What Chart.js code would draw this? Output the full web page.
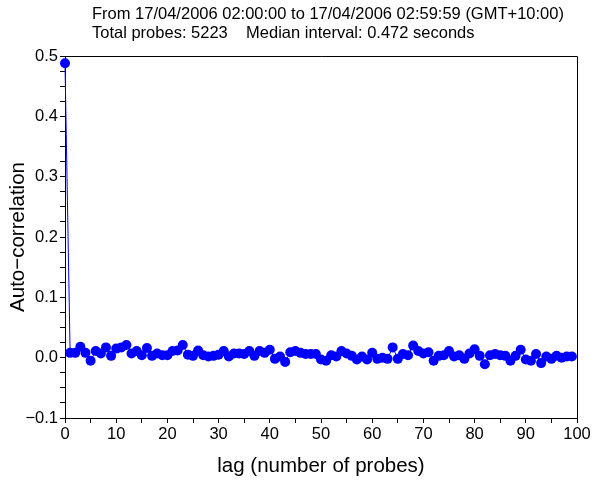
<!DOCTYPE html>
<html>
<head>
<meta charset="utf-8">
<script src="https://cdn.jsdelivr.net/npm/chart.js@4/dist/chart.umd.min.js"></script>
<style>
html,body{margin:0;padding:0;background:#fff;}
#wrap{position:relative;width:593px;height:481px;}
</style>
</head>
<body>
<div id="wrap"><canvas id="c" width="593" height="481"></canvas></div>
<script>
const titleLines = [
  "From 17/04/2006 02:00:00 to 17/04/2006 02:59:59 (GMT+10:00)",
  "Total probes: 5223    Median interval: 0.472 seconds"
];
const xTitle = "lag (number of probes)";
const yTitle = "Auto\u2212correlation";

const lags = [0,1,2,3,4,5,6,7,8,9,10,11,12,13,14,15,16,17,18,19,
  20,21,22,23,24,25,26,27,28,29,30,31,32,33,34,35,36,37,38,39,
  40,41,42,43,44,45,46,47,48,49,50,51,52,53,54,55,56,57,58,59,
  60,61,62,63,64,65,66,67,68,69,70,71,72,73,74,75,76,77,78,79,
  80,81,82,83,84,85,86,87,88,89,90,91,92,93,94,95,96,97,98,99];

const autoCorr = [0.488,0.008,0.008,0.018,0.008,-0.005,0.011,0.007,0.017,0.003,
  0.015,0.017,0.021,0.007,0.011,0.004,0.016,0.003,0.007,0.004,
  0.004,0.011,0.012,0.021,0.005,0.003,0.012,0.004,0.002,0.003,
  0.005,0.011,0.002,0.007,0.007,0.006,0.011,0.003,0.011,0.008,
  0.013,-0.002,0.002,-0.007,0.009,0.011,0.008,0.006,0.006,0.006,
  -0.003,-0.005,0.004,0.002,0.011,0.007,0.003,-0.003,0.002,-0.003,
  0.008,-0.002,0.000,-0.002,0.017,-0.002,0.006,0.004,0.020,0.011,
  0.007,0.009,-0.005,0.003,0.004,0.011,0.002,0.004,-0.002,0.007,
  0.014,0.003,-0.011,0.004,0.006,0.004,0.003,-0.005,0.003,0.013,
  -0.003,-0.005,0.006,-0.009,0.002,-0.002,0.003,0.000,0.002,0.002];

const xTickLabels = ["0","10","20","30","40","50","60","70","80","90","100"];
const yTickLabels = ["\u22120.1","0.0","0.1","0.2","0.3","0.4","0.5"];

const points = lags.map((l, i) => ({x: l, y: autoCorr[i]}));

const FONT = "'Liberation Sans', Arial, Helvetica, sans-serif";

const boxPlugin = {
  id: 'box',
  beforeDatasetsDraw(chart) {
    const {ctx, chartArea: a} = chart;
    ctx.save();
    ctx.strokeStyle = '#000';
    ctx.lineWidth = 1;
    ctx.beginPath();
    ctx.moveTo(a.left, a.top + 0.5);
    ctx.lineTo(a.right + 0.5, a.top + 0.5);
    ctx.lineTo(a.right + 0.5, a.bottom);
    ctx.stroke();
    ctx.restore();
  },
  afterDraw(chart) {
    const {ctx} = chart;
    ctx.save();
    ctx.fillStyle = '#000';
    ctx.font = "16.5px " + FONT;
    ctx.textAlign = 'left';
    ctx.textBaseline = 'middle';
    ctx.fillText(titleLines[0], 92, 14.5);
    ctx.fillText(titleLines[1], 92, 33);
    ctx.restore();
  }
};

new Chart(document.getElementById('c'), {
  type: 'line',
  data: {
    datasets: [{
      data: points,
      borderColor: '#0000ff',
      backgroundColor: '#0000ff',
      borderWidth: 1,
      pointRadius: 5,
      pointBorderWidth: 0,
      pointBackgroundColor: '#0000ff',
      tension: 0,
      clip: false
    }]
  },
  options: {
    responsive: false,
    animation: false,
    events: [],
    layout: {padding: {top: 56, right: 16, left: 0, bottom: 0}},
    plugins: {legend: {display: false}, tooltip: {enabled: false}, title: {display: false}},
    scales: {
      x: {
        type: 'linear',
        min: 0, max: 100,
        afterFit(s) { s.height = 63; },
        ticks: {
          stepSize: 5,
          autoSkip: false,
          maxRotation: 0,
          padding: 2,
          color: '#000',
          font: {family: FONT, size: 16.5},
          callback(v) {
            const r = Math.round(v);
            return r % 10 === 0 ? xTickLabels[r / 10] : '';
          }
        },
        grid: {display: true, drawOnChartArea: false, drawTicks: true, tickLength: 5, color: '#000'},
        border: {display: true, color: '#000', width: 1},
        title: {display: true, text: xTitle, color: '#000', font: {family: FONT, size: 20.5}, padding: {top: 0, bottom: 2}}
      },
      y: {
        type: 'linear',
        min: -0.1, max: 0.5,
        afterFit(s) { s.width = 65; },
        ticks: {
          stepSize: 0.025,
          autoSkip: false,
          padding: 2,
          color: '#000',
          font: {family: FONT, size: 16.5},
          callback(v) {
            const k = Math.round(v * 1000);
            return k % 100 === 0 ? yTickLabels[k / 100 + 1] : '';
          }
        },
        grid: {display: true, drawOnChartArea: false, drawTicks: true, tickLength: 5, color: '#000'},
        border: {display: true, color: '#000', width: 1},
        title: {display: true, text: yTitle, color: '#000', font: {family: FONT, size: 20.5}, padding: {top: 6, bottom: 0}}
      }
    }
  },
  plugins: [boxPlugin]
});
</script>
</body>
</html>
